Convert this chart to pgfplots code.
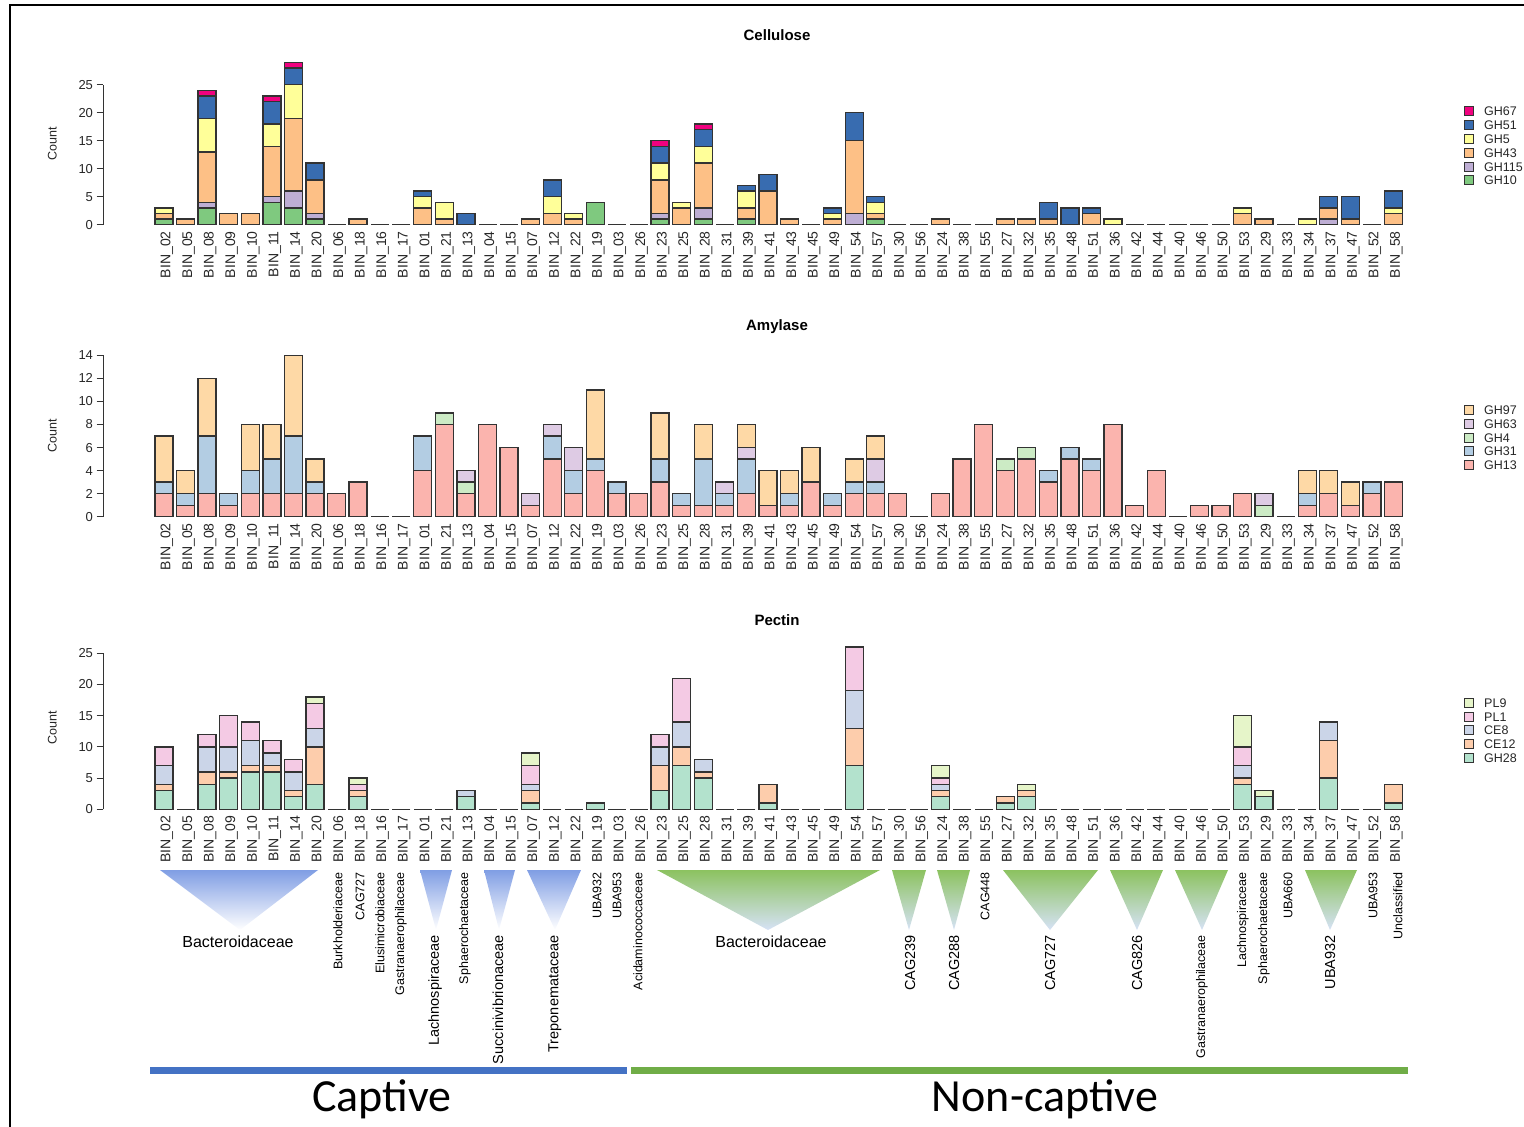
\documentclass[border=0pt]{standalone}
\usepackage{fontspec}
\setmainfont{Liberation Sans}
\newfontfamily\calibri{Carlito}
\usepackage{pgfplots}
\usepackage{pgfplotstable}
\pgfplotsset{compat=1.18}

% Accent (cellulose)
\definecolor{cGHa}{HTML}{7FC97F}% GH10
\definecolor{cGHb}{HTML}{BEAED4}% GH115
\definecolor{cGHc}{HTML}{FDC086}% GH43
\definecolor{cGHd}{HTML}{FFFF99}% GH5
\definecolor{cGHe}{HTML}{386CB0}% GH51
\definecolor{cGHf}{HTML}{F0027F}% GH67
% Pastel1 (amylase)
\definecolor{aA}{HTML}{FBB4AE}% GH13
\definecolor{aB}{HTML}{B3CDE3}% GH31
\definecolor{aC}{HTML}{CCEBC5}% GH4
\definecolor{aD}{HTML}{DECBE4}% GH63
\definecolor{aE}{HTML}{FED9A6}% GH97
% Pastel2 (pectin)
\definecolor{pA}{HTML}{B3E2CD}% GH28
\definecolor{pB}{HTML}{FDCDAC}% CE12
\definecolor{pC}{HTML}{CBD5E8}% CE8
\definecolor{pD}{HTML}{F4CAE4}% PL1
\definecolor{pE}{HTML}{E6F5C9}% PL9
\definecolor{bordc}{HTML}{333333}
\definecolor{capblue}{RGB}{128,158,228}
\definecolor{ncgreen}{RGB}{140,194,96}
\definecolor{ncpale}{RGB}{214,226,246}
\definecolor{lineblue}{RGB}{68,114,196}
\definecolor{linegreen}{RGB}{112,173,71}

\pgfplotstableread{
i GH10 GH115 GH43 GH5 GH51 GH67
1 1 0 1 1 0 0
2 0 0 1 0 0 0
3 3 1 9 6 4 1
4 0 0 2 0 0 0
5 0 0 2 0 0 0
6 4 1 9 4 4 1
7 3 3 13 6 3 1
8 1 1 6 0 3 0
9 0 0 0 0 0 0
10 0 0 1 0 0 0
11 0 0 0 0 0 0
12 0 0 0 0 0 0
13 0 0 3 2 1 0
14 0 0 1 3 0 0
15 0 0 0 0 2 0
16 0 0 0 0 0 0
17 0 0 0 0 0 0
18 0 0 1 0 0 0
19 0 0 2 3 3 0
20 0 0 1 1 0 0
21 4 0 0 0 0 0
22 0 0 0 0 0 0
23 0 0 0 0 0 0
24 1 1 6 3 3 1
25 0 0 3 1 0 0
26 1 2 8 3 3 1
27 0 0 0 0 0 0
28 1 0 2 3 1 0
29 0 0 6 0 3 0
30 0 0 1 0 0 0
31 0 0 0 0 0 0
32 0 0 1 1 1 0
33 0 2 13 0 5 0
34 1 0 1 2 1 0
35 0 0 0 0 0 0
36 0 0 0 0 0 0
37 0 0 1 0 0 0
38 0 0 0 0 0 0
39 0 0 0 0 0 0
40 0 0 1 0 0 0
41 0 0 1 0 0 0
42 0 0 1 0 3 0
43 0 0 0 0 3 0
44 0 0 2 0 1 0
45 0 0 0 1 0 0
46 0 0 0 0 0 0
47 0 0 0 0 0 0
48 0 0 0 0 0 0
49 0 0 0 0 0 0
50 0 0 0 0 0 0
51 0 0 2 1 0 0
52 0 0 1 0 0 0
53 0 0 0 0 0 0
54 0 0 0 1 0 0
55 0 1 2 0 2 0
56 0 0 1 0 4 0
57 0 0 0 0 0 0
58 0 0 2 1 3 0
}\cellulose

\pgfplotstableread{
i GH13 GH31 GH4 GH63 GH97
1 2 1 0 0 4
2 1 1 0 0 2
3 2 5 0 0 5
4 1 1 0 0 0
5 2 2 0 0 4
6 2 3 0 0 3
7 2 5 0 0 7
8 2 1 0 0 2
9 2 0 0 0 0
10 3 0 0 0 0
11 0 0 0 0 0
12 0 0 0 0 0
13 4 3 0 0 0
14 8 0 1 0 0
15 2 0 1 1 0
16 8 0 0 0 0
17 6 0 0 0 0
18 1 0 0 1 0
19 5 2 0 1 0
20 2 2 0 2 0
21 4 1 0 0 6
22 2 1 0 0 0
23 2 0 0 0 0
24 3 2 0 0 4
25 1 1 0 0 0
26 1 4 0 0 3
27 1 1 0 1 0
28 2 3 0 1 2
29 1 0 0 0 3
30 1 1 0 0 2
31 3 0 0 0 3
32 1 1 0 0 0
33 2 1 0 0 2
34 2 1 0 2 2
35 2 0 0 0 0
36 0 0 0 0 0
37 2 0 0 0 0
38 5 0 0 0 0
39 8 0 0 0 0
40 4 0 1 0 0
41 5 0 1 0 0
42 3 1 0 0 0
43 5 1 0 0 0
44 4 1 0 0 0
45 8 0 0 0 0
46 1 0 0 0 0
47 4 0 0 0 0
48 0 0 0 0 0
49 1 0 0 0 0
50 1 0 0 0 0
51 2 0 0 0 0
52 0 0 1 1 0
53 0 0 0 0 0
54 1 1 0 0 2
55 2 0 0 0 2
56 1 0 0 0 2
57 2 1 0 0 0
58 3 0 0 0 0
}\amylase

\pgfplotstableread{
i GH28 CE12 CE8 PL1 PL9
1 3 1 3 3 0
2 0 0 0 0 0
3 4 2 4 2 0
4 5 1 4 5 0
5 6 1 4 3 0
6 6 1 2 2 0
7 2 1 3 2 0
8 4 6 3 4 1
9 0 0 0 0 0
10 2 1 0 1 1
11 0 0 0 0 0
12 0 0 0 0 0
13 0 0 0 0 0
14 0 0 0 0 0
15 2 0 1 0 0
16 0 0 0 0 0
17 0 0 0 0 0
18 1 2 1 3 2
19 0 0 0 0 0
20 0 0 0 0 0
21 1 0 0 0 0
22 0 0 0 0 0
23 0 0 0 0 0
24 3 4 3 2 0
25 7 3 4 7 0
26 5 1 2 0 0
27 0 0 0 0 0
28 0 0 0 0 0
29 1 3 0 0 0
30 0 0 0 0 0
31 0 0 0 0 0
32 0 0 0 0 0
33 7 6 6 7 0
34 0 0 0 0 0
35 0 0 0 0 0
36 0 0 0 0 0
37 2 1 1 1 2
38 0 0 0 0 0
39 0 0 0 0 0
40 1 1 0 0 0
41 2 1 0 0 1
42 0 0 0 0 0
43 0 0 0 0 0
44 0 0 0 0 0
45 0 0 0 0 0
46 0 0 0 0 0
47 0 0 0 0 0
48 0 0 0 0 0
49 0 0 0 0 0
50 0 0 0 0 0
51 4 1 2 3 5
52 2 0 0 0 1
53 0 0 0 0 0
54 0 0 0 0 0
55 5 6 3 0 0
56 0 0 0 0 0
57 0 0 0 0 0
58 1 3 0 0 0
}\pectin

\pgfplotsset{
  geom/.style={scale only axis, width=1301.3pt, xmin=-1.828, xmax=58.5, ymin=0, clip=false},
  baseaxis/.style={geom, hide axis},
  baseline/.style={only marks, mark=-, mark size=9pt, mark options={draw=bordc, line width=1.3pt}},
  binaxis/.style={
    geom,
    axis y line*=left, axis x line*=bottom,
    x axis line style={draw=none},
    y axis line style={draw=bordc, line width=1pt},
    xtick={1,...,58},
    xticklabels={BIN\_02,BIN\_05,BIN\_08,BIN\_09,BIN\_10,BIN\_11,BIN\_14,BIN\_20,BIN\_06,BIN\_18,BIN\_16,BIN\_17,BIN\_01,BIN\_21,BIN\_13,BIN\_04,BIN\_15,BIN\_07,BIN\_12,BIN\_22,BIN\_19,BIN\_03,BIN\_26,BIN\_23,BIN\_25,BIN\_28,BIN\_31,BIN\_39,BIN\_41,BIN\_43,BIN\_45,BIN\_49,BIN\_54,BIN\_57,BIN\_30,BIN\_56,BIN\_24,BIN\_38,BIN\_55,BIN\_27,BIN\_32,BIN\_35,BIN\_48,BIN\_51,BIN\_36,BIN\_42,BIN\_44,BIN\_40,BIN\_46,BIN\_50,BIN\_53,BIN\_29,BIN\_33,BIN\_34,BIN\_37,BIN\_47,BIN\_52,BIN\_58},
    x tick style={draw=none},
    y tick style={draw=bordc, line width=1pt},
    tick align=outside, major tick length=6.5pt,
    xticklabel style={rotate=90, anchor=east, inner sep=0pt, yshift=-3pt, font=\fontsize{14}{14}\selectfont, color=black!85},
    yticklabel style={font=\fontsize{13}{13}\selectfont, color=black!85},
    /pgf/number format/assume math mode=true,
    ybar stacked, bar width=18pt,
    every axis plot/.append style={draw=bordc, line width=1.3pt},
    ylabel={Count},
    ylabel style={font=\fontsize{12.5}{12.5}\selectfont, anchor=center, color=black!85},
  }
}

\begin{document}
\begin{tikzpicture}
\useasboundingbox (0pt,0pt) rectangle (1524pt,-1127pt);

% Cellulose
\begin{axis}[baseaxis, at={(103pt,-224.7pt)}, anchor=south west, height=140pt, ymax=25]
\addplot[baseline] table[x=i, y expr=0]{\cellulose};
\end{axis}
\begin{axis}[binaxis, at={(103pt,-224.7pt)}, anchor=south west,
  height=140pt, ymax=25, ytick={0,5,...,25},
  ylabel style={at={(axis description cs:-0.039,0.576)}}]
\addplot[fill=cGHa] table[x=i,y=GH10]{\cellulose};
\addplot[fill=cGHb] table[x=i,y=GH115]{\cellulose};
\addplot[fill=cGHc] table[x=i,y=GH43]{\cellulose};
\addplot[fill=cGHd] table[x=i,y=GH5]{\cellulose};
\addplot[fill=cGHe] table[x=i,y=GH51]{\cellulose};
\addplot[fill=cGHf] table[x=i,y=GH67]{\cellulose};
\end{axis}

% Amylase
\begin{axis}[baseaxis, at={(103pt,-516.7pt)}, anchor=south west, height=161.4pt, ymax=14]
\addplot[baseline] table[x=i, y expr=0]{\amylase};
\end{axis}
\begin{axis}[binaxis, at={(103pt,-516.7pt)}, anchor=south west,
  height=161.4pt, ymax=14, ytick={0,2,...,14},
  ylabel style={at={(axis description cs:-0.039,0.50)}}]
\addplot[fill=aA] table[x=i,y=GH13]{\amylase};
\addplot[fill=aB] table[x=i,y=GH31]{\amylase};
\addplot[fill=aC] table[x=i,y=GH4]{\amylase};
\addplot[fill=aD] table[x=i,y=GH63]{\amylase};
\addplot[fill=aE] table[x=i,y=GH97]{\amylase};
\end{axis}

% Pectin
\begin{axis}[baseaxis, at={(103pt,-809.3pt)}, anchor=south west, height=156pt, ymax=25]
\addplot[baseline] table[x=i, y expr=0]{\pectin};
\end{axis}
\begin{axis}[binaxis, at={(103pt,-809.3pt)}, anchor=south west,
  height=156pt, ymax=25, ytick={0,5,...,25},
  ylabel style={at={(axis description cs:-0.039,0.52)}}]
\addplot[fill=pA] table[x=i,y=GH28]{\pectin};
\addplot[fill=pB] table[x=i,y=CE12]{\pectin};
\addplot[fill=pC] table[x=i,y=CE8]{\pectin};
\addplot[fill=pD] table[x=i,y=PL1]{\pectin};
\addplot[fill=pE] table[x=i,y=PL9]{\pectin};
\end{axis}

\begin{scope}[x=1pt,y=-1pt]
% frame
\draw[black, line width=1.5pt] (10,1127) -- (10,5) -- (1524,5);
% titles
\node[font=\bfseries\fontsize{15}{15}\selectfont] at (777,35) {Cellulose};
\node[font=\bfseries\fontsize{15}{15}\selectfont] at (777,327) {Amylase};
\node[font=\bfseries\fontsize{15}{15}\selectfont] at (777,620) {Pectin};
% legends
\def\legsq#1#2#3{\draw[draw=bordc, line width=1pt, fill=#2] (1464,#1-4.5) rectangle (1473,#1+4.5);
  \node[anchor=west, inner sep=0pt, font=\fontsize{12.5}{12.5}\selectfont, color=black!85] at (1484,#1) {#3};}
\legsq{111}{cGHf}{GH67}
\legsq{125}{cGHe}{GH51}
\legsq{139}{cGHd}{GH5}
\legsq{153}{cGHc}{GH43}
\legsq{167}{cGHb}{GH115}
\legsq{180}{cGHa}{GH10}
\legsq{410}{aE}{GH97}
\legsq{424}{aD}{GH63}
\legsq{438}{aC}{GH4}
\legsq{451}{aB}{GH31}
\legsq{465}{aA}{GH13}
\legsq{703}{pE}{PL9}
\legsq{717}{pD}{PL1}
\legsq{730}{pC}{CE8}
\legsq{744}{pB}{CE12}
\legsq{758}{pA}{GH28}
% triangles captive
\shade[top color=capblue, bottom color=white] (160,870) -- (318,870) -- (240,930) -- cycle;
\shade[top color=capblue, bottom color=white] (420,870) -- (452,870) -- (436,930) -- cycle;
\shade[top color=capblue, bottom color=white] (484,870) -- (515,870) -- (499,930) -- cycle;
\shade[top color=capblue, bottom color=white] (527,870) -- (581,870) -- (555,930) -- cycle;
% triangles non-captive
\shade[top color=ncgreen, bottom color=ncpale] (657,870) -- (880,870) -- (768,930) -- cycle;
\shade[top color=ncgreen, bottom color=ncpale] (892,870) -- (926,870) -- (909,930) -- cycle;
\shade[top color=ncgreen, bottom color=ncpale] (937,870) -- (970,870) -- (954,930) -- cycle;
\shade[top color=ncgreen, bottom color=ncpale] (1003,870) -- (1098,870) -- (1050,930) -- cycle;
\shade[top color=ncgreen, bottom color=ncpale] (1110,870) -- (1163,870) -- (1137,930) -- cycle;
\shade[top color=ncgreen, bottom color=ncpale] (1175,870) -- (1228,870) -- (1202,930) -- cycle;
\shade[top color=ncgreen, bottom color=ncpale] (1305,870) -- (1357,870) -- (1330,930) -- cycle;
% family labels
\node[font=\fontsize{16}{16}\selectfont] at (238,942) {Bacteroidaceae};
\node[font=\fontsize{16}{16}\selectfont] at (771,942) {Bacteroidaceae};
\tikzset{fam/.style={rotate=90, anchor=east, inner sep=0pt, font=\fontsize{12.5}{12.5}\selectfont},
         famb/.style={rotate=90, anchor=east, inner sep=0pt, font=\fontsize{14.5}{14.5}\selectfont}}
\node[fam] at (338,872) {Burkholderiaceae};
\node[fam] at (360,872) {CAG727};
\node[fam] at (380,872) {Elusimicrobiaceae};
\node[fam] at (401,872) {Gastranaerophilaceae};
\node[famb] at (435,935) {Lachnospiraceae};
\node[fam] at (465,872) {Sphaerochaetaceae};
\node[famb] at (498,935) {Succinivibrionaceae};
\node[famb] at (555,935) {Treponemataceae};
\node[fam] at (597,872) {UBA932};
\node[fam] at (617,872) {UBA953};
\node[fam] at (638,872) {Acidaminococcaceae};
\node[famb] at (910,935) {CAG239};
\node[famb] at (954,935) {CAG288};
\node[fam] at (985,872) {CAG448};
\node[famb] at (1050,935) {CAG727};
\node[famb] at (1137,935) {CAG826};
\node[fam] at (1202,935) {Gastranaerophilaceae};
\node[fam] at (1243,872) {Lachnospiraceae};
\node[fam] at (1264,872) {Sphaerochaetaceae};
\node[fam] at (1288,872) {UBA660};
\node[famb] at (1330,935) {UBA932};
\node[fam] at (1373,872) {UBA953};
\node[fam] at (1398,872) {Unclassified};
% group bars
\draw[lineblue, line width=7pt] (150,1070) -- (627,1070);
\draw[linegreen, line width=7pt] (631,1070) -- (1408,1070);
\node[font=\calibri\fontsize{46}{46}\selectfont] at (382,1099) {Captive};
\node[font=\calibri\fontsize{46}{46}\selectfont] at (1045,1099) {Non-captive};
\end{scope}
\end{tikzpicture}
\end{document}
